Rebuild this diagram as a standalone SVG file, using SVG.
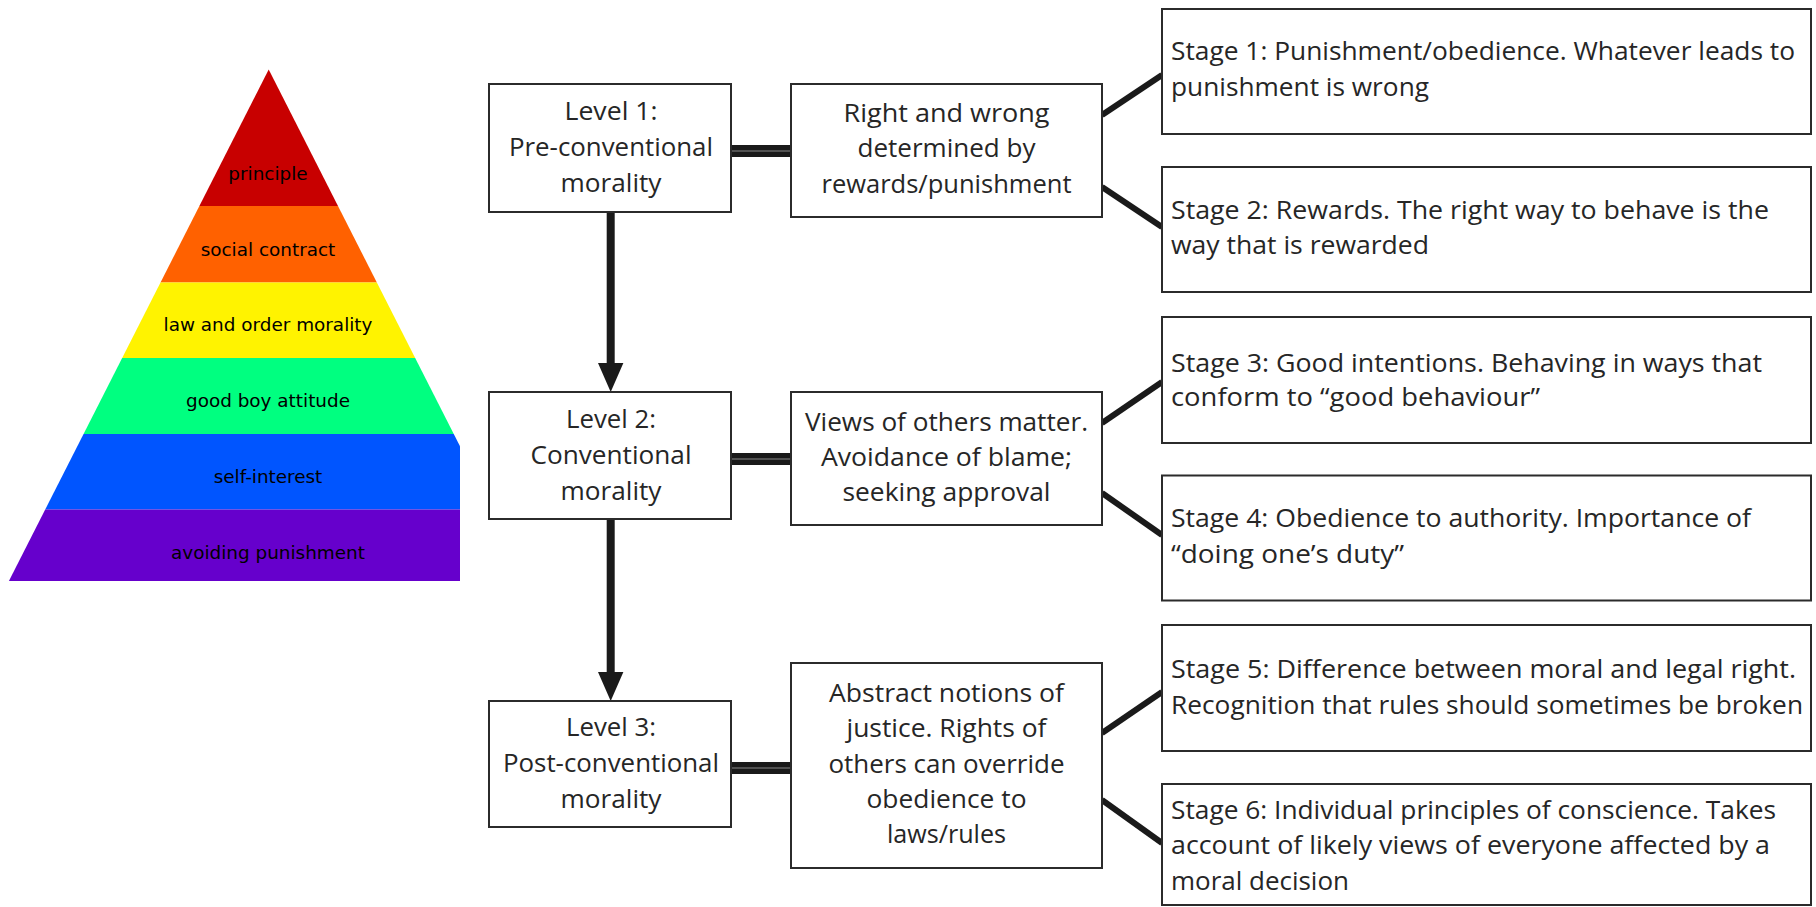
<svg xmlns="http://www.w3.org/2000/svg" width="1816" height="907" viewBox="0 0 1816 907">
<style>
.pt{font-family:"DejaVu Sans",sans-serif;font-size:18.4px;fill:#000;text-anchor:middle}
.box{fill:#fff;stroke:#2b2b2b;stroke-width:2}
.t{font-family:"Open Sans","Noto Sans",sans-serif;font-size:25px;fill:#262626;text-anchor:middle}
.s{font-family:"Open Sans","Noto Sans",sans-serif;font-size:25px;fill:#262626;text-anchor:start}
.ln{stroke:#1a1a1a;stroke-width:6;fill:none}
.sh{stroke:#1a1a1a;stroke-width:8;fill:none}
.dbl{fill:#1a1a1a}
.gap{fill:#8a8a8a}
.ah{fill:#1a1a1a}
</style>
<defs>
<clipPath id="pyr"><polygon points="268.7,69.5 460,446.3 460,581 8.9,581"/></clipPath>
</defs>
<rect width="1816" height="907" fill="#fff"/>
<g id="pyramid" clip-path="url(#pyr)">
<rect x="0" y="60" width="470" height="146" fill="#C80000"/>
<rect x="0" y="206" width="470" height="76.5" fill="#FF6100"/>
<rect x="0" y="282.5" width="470" height="75.5" fill="#FFF300"/>
<rect x="0" y="358" width="470" height="76" fill="#00FF80"/>
<rect x="0" y="434" width="470" height="75.5" fill="#0055FF"/>
<rect x="0" y="509.5" width="470" height="72" fill="#6600CC"/>
</g>
<g id="pyramid-labels">
<text class="pt" x="268" y="180">principle</text>
<text class="pt" x="268" y="255.5">social contract</text>
<text class="pt" x="268" y="331">law and order morality</text>
<text class="pt" x="268" y="407">good boy attitude</text>
<text class="pt" x="268" y="482.5">self-interest</text>
<text class="pt" x="268" y="559">avoiding punishment</text>
</g>
<g id="connectors">
<rect class="dbl" x="731" y="145" width="60" height="12"/>
<rect class="gap" x="731" y="150.5" width="60" height="1"/>
<rect class="dbl" x="731" y="453" width="60" height="12"/>
<rect class="gap" x="731" y="458.5" width="60" height="1"/>
<rect class="dbl" x="731" y="762" width="60" height="12"/>
<rect class="gap" x="731" y="767.5" width="60" height="1"/>
<line class="sh" x1="610.7" y1="212" x2="610.7" y2="366"/>
<polygon class="ah" points="598,363 623.4,363 610.7,392"/>
<line class="sh" x1="610.7" y1="519" x2="610.7" y2="675"/>
<polygon class="ah" points="598,672 623.4,672 610.7,701"/>
<line class="ln" x1="1102" y1="115" x2="1162" y2="75"/>
<line class="ln" x1="1102" y1="187" x2="1162" y2="227"/>
<line class="ln" x1="1102" y1="423" x2="1162" y2="382"/>
<line class="ln" x1="1102" y1="493" x2="1162" y2="535"/>
<line class="ln" x1="1102" y1="733" x2="1162" y2="692"/>
<line class="ln" x1="1102" y1="800" x2="1162" y2="843"/>
</g>
<g id="level1">
<rect class="box" x="489" y="84" width="242" height="128"/>
<text class="t" x="611" y="120" textLength="93" lengthAdjust="spacingAndGlyphs">Level 1:</text>
<text class="t" x="611" y="156" textLength="204" lengthAdjust="spacingAndGlyphs">Pre-conventional</text>
<text class="t" x="611" y="192" textLength="101" lengthAdjust="spacingAndGlyphs">morality</text>
</g>
<g id="level2">
<rect class="box" x="489" y="392" width="242" height="127"/>
<text class="t" x="611" y="428" textLength="90" lengthAdjust="spacingAndGlyphs">Level 2:</text>
<text class="t" x="611" y="464" textLength="161" lengthAdjust="spacingAndGlyphs">Conventional</text>
<text class="t" x="611" y="500" textLength="101" lengthAdjust="spacingAndGlyphs">morality</text>
</g>
<g id="level3">
<rect class="box" x="489" y="701" width="242" height="126"/>
<text class="t" x="611" y="736" textLength="90" lengthAdjust="spacingAndGlyphs">Level 3:</text>
<text class="t" x="611" y="772" textLength="216" lengthAdjust="spacingAndGlyphs">Post-conventional</text>
<text class="t" x="611" y="808" textLength="101" lengthAdjust="spacingAndGlyphs">morality</text>
</g>
<g id="desc1">
<rect class="box" x="791" y="84" width="311" height="133"/>
<text class="t" x="946.5" y="122" textLength="206" lengthAdjust="spacingAndGlyphs">Right and wrong</text>
<text class="t" x="946.5" y="157" textLength="178" lengthAdjust="spacingAndGlyphs">determined by</text>
<text class="t" x="946.5" y="193" textLength="250" lengthAdjust="spacingAndGlyphs">rewards/punishment</text>
</g>
<g id="desc2">
<rect class="box" x="791" y="392" width="311" height="133"/>
<text class="t" x="946.5" y="431" textLength="283" lengthAdjust="spacingAndGlyphs">Views of others matter.</text>
<text class="t" x="946.5" y="466" textLength="251" lengthAdjust="spacingAndGlyphs">Avoidance of blame;</text>
<text class="t" x="946.5" y="501" textLength="208" lengthAdjust="spacingAndGlyphs">seeking approval</text>
</g>
<g id="desc3">
<rect class="box" x="791" y="663" width="311" height="205"/>
<text class="t" x="946.5" y="702" textLength="235" lengthAdjust="spacingAndGlyphs">Abstract notions of</text>
<text class="t" x="946.5" y="737" textLength="200" lengthAdjust="spacingAndGlyphs">justice. Rights of</text>
<text class="t" x="946.5" y="772.5" textLength="236" lengthAdjust="spacingAndGlyphs">others can override</text>
<text class="t" x="946.5" y="808" textLength="160" lengthAdjust="spacingAndGlyphs">obedience to</text>
<text class="t" x="946.5" y="843" textLength="119" lengthAdjust="spacingAndGlyphs">laws/rules</text>
</g>
<g id="stage1">
<rect class="box" x="1162" y="9" width="649" height="125"/>
<text class="s" x="1171" y="60" textLength="624" lengthAdjust="spacingAndGlyphs">Stage 1: Punishment/obedience. Whatever leads to</text>
<text class="s" x="1171" y="96" textLength="258" lengthAdjust="spacingAndGlyphs">punishment is wrong</text>
</g>
<g id="stage2">
<rect class="box" x="1162" y="167" width="649" height="125"/>
<text class="s" x="1171" y="219" textLength="598" lengthAdjust="spacingAndGlyphs">Stage 2: Rewards. The right way to behave is the</text>
<text class="s" x="1171" y="254" textLength="258" lengthAdjust="spacingAndGlyphs">way that is rewarded</text>
</g>
<g id="stage3">
<rect class="box" x="1162" y="317" width="649" height="126"/>
<text class="s" x="1171" y="372" textLength="591" lengthAdjust="spacingAndGlyphs">Stage 3: Good intentions. Behaving in ways that</text>
<text class="s" x="1171" y="406" textLength="369" lengthAdjust="spacingAndGlyphs">conform to “good behaviour”</text>
</g>
<g id="stage4">
<rect class="box" x="1162" y="475.5" width="649" height="125"/>
<text class="s" x="1171" y="527" textLength="580" lengthAdjust="spacingAndGlyphs">Stage 4: Obedience to authority. Importance of</text>
<text class="s" x="1171" y="563" textLength="233" lengthAdjust="spacingAndGlyphs">“doing one’s duty”</text>
</g>
<g id="stage5">
<rect class="box" x="1162" y="625" width="649" height="126"/>
<text class="s" x="1171" y="678" textLength="625" lengthAdjust="spacingAndGlyphs">Stage 5: Difference between moral and legal right.</text>
<text class="s" x="1171" y="714" textLength="632" lengthAdjust="spacingAndGlyphs">Recognition that rules should sometimes be broken</text>
</g>
<g id="stage6">
<rect class="box" x="1162" y="784" width="649" height="121"/>
<text class="s" x="1171" y="819" textLength="605" lengthAdjust="spacingAndGlyphs">Stage 6: Individual principles of conscience. Takes</text>
<text class="s" x="1171" y="854" textLength="599" lengthAdjust="spacingAndGlyphs">account of likely views of everyone affected by a</text>
<text class="s" x="1171" y="890" textLength="178" lengthAdjust="spacingAndGlyphs">moral decision</text>
</g>
</svg>
